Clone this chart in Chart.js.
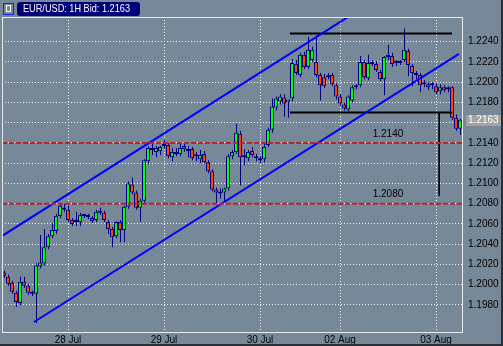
<!DOCTYPE html>
<html lang="en">
<head>
  <meta charset="UTF-8">
  <title>EUR/USD 1H</title>
  <script src="https://cdn.jsdelivr.net/npm/chart.js"></script>
  <style>
    html, body { margin: 0; padding: 0; background: #778899; }
    canvas { display: block; }
  </style>
</head>
<body>

  <canvas id="chart" width="503" height="346"></canvas>

  <script>
  // hourly bars, 27 Jul 08:00 .. 03 Aug 06:00
  const opens = [
    1.2012, 1.2008, 1.2002, 1.1992, 1.1982, 1.2003, 1.1999, 1.1991, 1.1991, 1.2018,
    1.2021, 1.2037, 1.2048, 1.2053, 1.2068, 1.2076, 1.2074, 1.2064, 1.2063, 1.2062,
    1.2068, 1.2068, 1.2066, 1.2064, 1.2073, 1.2071, 1.2062, 1.2055, 1.2048, 1.2062,
    1.2054, 1.2077, 1.2099, 1.2091, 1.2076, 1.2083, 1.2122, 1.2135, 1.2131, 1.2132,
    1.2137, 1.2138, 1.2126, 1.2131, 1.2129, 1.2137, 1.2132, 1.2134, 1.2127, 1.2124,
    1.2129, 1.2121, 1.2112, 1.2094, 1.2091, 1.2091, 1.2095, 1.2127, 1.2131, 1.2149,
    1.2126, 1.2125, 1.2132, 1.2127, 1.2124, 1.2124, 1.2138, 1.2153, 1.2175, 1.2181,
    1.2185, 1.2180, 1.2184, 1.2218, 1.2207, 1.2227, 1.2215, 1.2222, 1.2220, 1.2207,
    1.2205, 1.2206, 1.2207, 1.2197, 1.2186, 1.2178, 1.2173, 1.2182, 1.2195, 1.2197,
    1.2220, 1.2204, 1.2220, 1.2218, 1.2210, 1.2203, 1.2225, 1.2226, 1.2219, 1.2219,
    1.2222, 1.2231, 1.2216, 1.2209, 1.2207, 1.2199, 1.2198, 1.2197, 1.2196, 1.2191,
    1.2195, 1.2194, 1.2195, 1.2165, 1.2154
  ];
  const highs = [
    1.2014, 1.2010, 1.2004, 1.1994, 1.2008, 1.2008, 1.2001, 1.1994, 1.2021, 1.2049,
    1.2055, 1.2050, 1.2061, 1.2070, 1.2080, 1.2080, 1.2078, 1.2066, 1.2072, 1.2071,
    1.2069, 1.2070, 1.2068, 1.2074, 1.2076, 1.2073, 1.2064, 1.2057, 1.2063, 1.2064,
    1.2078, 1.2102, 1.2106, 1.2093, 1.2085, 1.2124, 1.2137, 1.2141, 1.2137, 1.2137,
    1.2143, 1.2140, 1.2135, 1.2135, 1.2139, 1.2141, 1.2137, 1.2136, 1.2131, 1.2133,
    1.2132, 1.2123, 1.2114, 1.2096, 1.2095, 1.2096, 1.2129, 1.2133, 1.2159, 1.2152,
    1.2134, 1.2133, 1.2136, 1.2129, 1.2127, 1.2139, 1.2155, 1.2184, 1.2186, 1.2188,
    1.2188, 1.2183, 1.2223, 1.2222, 1.2229, 1.2230, 1.2245, 1.2235, 1.2246, 1.2209,
    1.2208, 1.2209, 1.2209, 1.2199, 1.2188, 1.2180, 1.2187, 1.2197, 1.2198, 1.2226,
    1.2222, 1.2227, 1.2222, 1.2221, 1.2212, 1.2226, 1.2237, 1.2229, 1.2222, 1.2222,
    1.2253, 1.2233, 1.2218, 1.2211, 1.2209, 1.2202, 1.2200, 1.2200, 1.2199, 1.2198,
    1.2197, 1.2196, 1.2196, 1.2168, 1.2164
  ];
  const lows = [
    1.2007, 1.1999, 1.1991, 1.1978, 1.1980, 1.1997, 1.1990, 1.1989, 1.1962, 1.2016,
    1.2019, 1.2035, 1.2046, 1.2050, 1.2066, 1.2072, 1.2062, 1.2058, 1.2058, 1.2058,
    1.2066, 1.2065, 1.2061, 1.2062, 1.2069, 1.2062, 1.2050, 1.2037, 1.2046, 1.2042,
    1.2042, 1.2075, 1.2089, 1.2074, 1.2062, 1.2081, 1.2119, 1.2128, 1.2126, 1.2128,
    1.2134, 1.2125, 1.2122, 1.2127, 1.2127, 1.2131, 1.2126, 1.2123, 1.2122, 1.2120,
    1.2120, 1.2110, 1.2092, 1.2080, 1.2085, 1.2081, 1.2093, 1.2124, 1.2129, 1.2098,
    1.2118, 1.2122, 1.2126, 1.2122, 1.2120, 1.2121, 1.2136, 1.2150, 1.2172, 1.2178,
    1.2166, 1.2165, 1.2181, 1.2207, 1.2205, 1.2213, 1.2213, 1.2220, 1.2205, 1.2182,
    1.2194, 1.2203, 1.2196, 1.2183, 1.2177, 1.2172, 1.2171, 1.2180, 1.2193, 1.2195,
    1.2203, 1.2202, 1.2216, 1.2210, 1.2201, 1.2187, 1.2222, 1.2215, 1.2216, 1.2217,
    1.2220, 1.2206, 1.2196, 1.2203, 1.2190, 1.2195, 1.2192, 1.2193, 1.2188, 1.2188,
    1.2190, 1.2190, 1.2163, 1.2152, 1.2148
  ];
  const closes = [
    1.2009, 1.2001, 1.1993, 1.1983, 1.2003, 1.1999, 1.1992, 1.1992, 1.2019, 1.2022,
    1.2037, 1.2048, 1.2054, 1.2068, 1.2078, 1.2074, 1.2064, 1.2060, 1.2062, 1.2069,
    1.2068, 1.2067, 1.2063, 1.2072, 1.2071, 1.2064, 1.2055, 1.2047, 1.2062, 1.2054,
    1.2077, 1.2100, 1.2091, 1.2076, 1.2083, 1.2123, 1.2135, 1.2133, 1.2135, 1.2136,
    1.2139, 1.2127, 1.2131, 1.2129, 1.2135, 1.2134, 1.2133, 1.2125, 1.2127, 1.2128,
    1.2121, 1.2112, 1.2094, 1.2091, 1.2090, 1.2095, 1.2127, 1.2131, 1.2150, 1.2126,
    1.2127, 1.2131, 1.2128, 1.2125, 1.2123, 1.2136, 1.2153, 1.2176, 1.2184, 1.2186,
    1.2179, 1.2183, 1.2219, 1.2209, 1.2227, 1.2215, 1.2232, 1.2232, 1.2207, 1.2197,
    1.2196, 1.2205, 1.2198, 1.2186, 1.2179, 1.2174, 1.2186, 1.2195, 1.2197, 1.2220,
    1.2205, 1.2219, 1.2218, 1.2212, 1.2203, 1.2225, 1.2226, 1.2218, 1.2220, 1.2221,
    1.2232, 1.2217, 1.2209, 1.2207, 1.2197, 1.2198, 1.2195, 1.2198, 1.2190, 1.2195,
    1.2192, 1.2193, 1.2165, 1.2154, 1.2163
  ];

  const dayTicks = [16, 40, 64, 84, 108];
  const dayLabels = ['28 Jul', '29 Jul', '30 Jul', '02 Aug', '03 Aug'];
  const priceTicks = [1.1980, 1.2000, 1.2020, 1.2040, 1.2060, 1.2080, 1.2100,
                      1.2120, 1.2140, 1.2160, 1.2180, 1.2200, 1.2220, 1.2240];

  // drawn objects (bar index, price)
  const channelUpper = [{x: -1, y: 1.20469}, {x: 90, y: 1.22744}];
  const channelLower = [{x: 7.5, y: 1.19632}, {x: 113.75, y: 1.22279}];
  const rangeTop = [{x: 71.5, y: 1.2248}, {x: 112, y: 1.2248}];
  const rangeBottom = [{x: 71.5, y: 1.2170}, {x: 112, y: 1.2170}];
  const dropLine = [{x: 108.8, y: 1.2170}, {x: 108.8, y: 1.20876}];
  const levels = [1.2140, 1.2080];
  const levelLabelAt = 96;
  const symbolTitle = 'EUR/USD: 1H Bid: 1.2163';
  const lastBid = 1.2163;

  const bullColor = '#00ff00';
  const bearColor = '#ff4500';
  const wickColor = '#000080';
  const xMin = -0.5, xMax = 115;

  const bodies = opens.map((o, i) => ({x: i, y: [o, closes[i]]}));
  const wicks = lows.map((l, i) => ({x: i, y: [l, highs[i]]}));
  const bodyColors = opens.map((o, i) => closes[i] >= o ? bullColor : bearColor);

  const lineSet = (data, color, width, dash) => ({
    type: 'line',
    data: data,
    borderColor: color,
    borderWidth: width,
    borderDash: dash || [],
    pointRadius: 0,
    tension: 0,
    fill: false,
    clip: 0,
    order: 0,
    xAxisID: 'x',
    yAxisID: 'y'
  });

  const levelSets = levels.map(v =>
    lineSet([{x: xMin, y: v}, {x: xMax, y: v}], '#b8262b', 2, [5, 2]));

  const extras = {
    id: 'extras',
    beforeDraw(chart) {
      const ctx = chart.ctx;
      ctx.save();
      ctx.fillStyle = '#778899';
      ctx.fillRect(0, 0, chart.width, chart.height);
      ctx.restore();
    },
    afterDatasetsDraw(chart) {
      const {ctx, chartArea: a, scales: {x, y}} = chart;
      ctx.save();
      ctx.font = '10px "Liberation Sans", Arial, sans-serif';
      ctx.fillStyle = '#000';
      ctx.textAlign = 'center';
      ctx.textBaseline = 'middle';
      levels.forEach(v => {
        ctx.fillText(v.toFixed(4), x.getPixelForValue(levelLabelAt), y.getPixelForValue(v) - 9);
      });
      // plot frame
      ctx.strokeStyle = '#e8ecef';
      ctx.lineWidth = 1;
      ctx.strokeRect(a.left + 0.5, a.top + 0.5, a.width - 2, a.height - 2);
      ctx.restore();
    },
    afterDraw(chart) {
      const {ctx, scales: {y}} = chart;
      ctx.save();
      // last price tag
      const py = y.getPixelForValue(lastBid);
      ctx.fillStyle = '#a2a2a2';
      ctx.fillRect(466, Math.round(py) - 5, 37, 11);
      ctx.fillStyle = '#fff';
      ctx.font = '10px "Liberation Sans", Arial, sans-serif';
      ctx.textBaseline = 'middle';
      ctx.fillText(lastBid.toFixed(4), 468, Math.round(py) + 0.5);
      // title box
      ctx.fillStyle = '#00007a';
      ctx.beginPath();
      ctx.roundRect(17, 2, 123, 14, 3);
      ctx.fill();
      ctx.fillStyle = '#fff';
      ctx.font = '11px "Liberation Sans", Arial, sans-serif';
      ctx.textAlign = 'left';
      ctx.fillText(symbolTitle, 23, 9, 107);
      // small icon
      ctx.strokeStyle = '#1a1aff';
      ctx.lineWidth = 1;
      ctx.strokeRect(3.5, 3.5, 10, 11);
      ctx.strokeStyle = '#fff';
      ctx.beginPath();
      ctx.moveTo(6.5, 6); ctx.lineTo(6.5, 11.5); ctx.lineTo(10.5, 11.5); ctx.lineTo(10.5, 6);
      ctx.moveTo(6, 5.5); ctx.lineTo(11, 5.5);
      ctx.stroke();
      // window edge
      ctx.fillStyle = '#2a2f36';
      ctx.fillRect(0, 344, 503, 2);
      ctx.fillRect(501, 0, 2, 346);
      ctx.restore();
    }
  };

  Chart.defaults.font.family = '"Liberation Sans", Arial, sans-serif';
  Chart.defaults.font.size = 10;
  Chart.defaults.color = '#000';

  const ctx = document.getElementById('chart').getContext('2d');
  const myChart = new Chart(ctx, {
    type: 'bar',
    data: {
      datasets: [
        ...levelSets,
        lineSet(channelUpper, '#0000ff', 2),
        lineSet(channelLower, '#0000ff', 2),
        lineSet(rangeTop, '#000', 2),
        lineSet(rangeBottom, '#000', 2),
        lineSet(dropLine, '#000', 1),
        {
          type: 'bar',
          data: bodies,
          backgroundColor: bodyColors,
          borderColor: wickColor,
          borderWidth: 1,
          borderSkipped: false,
          barThickness: 4,
          minBarLength: 2,
          inflateAmount: 0,
          grouped: false,
          order: 1,
          xAxisID: 'x',
          yAxisID: 'y'
        },
        {
          type: 'bar',
          data: wicks,
          backgroundColor: wickColor,
          borderWidth: 0,
          barThickness: 1,
          inflateAmount: 0,
          grouped: false,
          order: 2,
          xAxisID: 'xw',
          yAxisID: 'y'
        }
      ]
    },
    options: {
      responsive: false,
      animation: false,
      devicePixelRatio: 1,
      events: [],
      layout: { padding: { left: 2, top: 17, right: 0, bottom: 0 } },
      plugins: {
        legend: { display: false },
        tooltip: { enabled: false }
      },
      scales: {
        x: {
          type: 'linear',
          position: 'bottom',
          min: xMin,
          max: xMax,
          offset: false,
          afterFit: s => { s.height = 12; },
          afterBuildTicks: s => { s.ticks = dayTicks.map(v => ({value: v})); },
          ticks: {
            autoSkip: false,
            maxRotation: 0,
            padding: 0,
            color: '#000',
            callback: (v, i) => dayLabels[i]
          },
          grid: { color: 'rgba(255,255,255,0.9)', lineWidth: 1, drawTicks: false, offset: false },
          border: { display: false, dash: [1, 2] }
        },
        xw: {
          type: 'linear',
          display: false,
          min: xMin - 0.125,
          max: xMax - 0.125,
          offset: false
        },
        y: {
          type: 'linear',
          position: 'right',
          min: 1.195136,
          max: 1.226439,
          beginAtZero: false,
          afterFit: s => { s.width = 39; },
          afterBuildTicks: s => { s.ticks = priceTicks.map(v => ({value: v})); },
          ticks: {
            padding: 4,
            color: '#000',
            callback: v => v.toFixed(4)
          },
          grid: { color: 'rgba(255,255,255,0.9)', lineWidth: 1, drawTicks: false },
          border: { display: false, dash: [1, 2] }
        }
      }
    },
    plugins: [extras]
  });
  </script>
</body>
</html>
